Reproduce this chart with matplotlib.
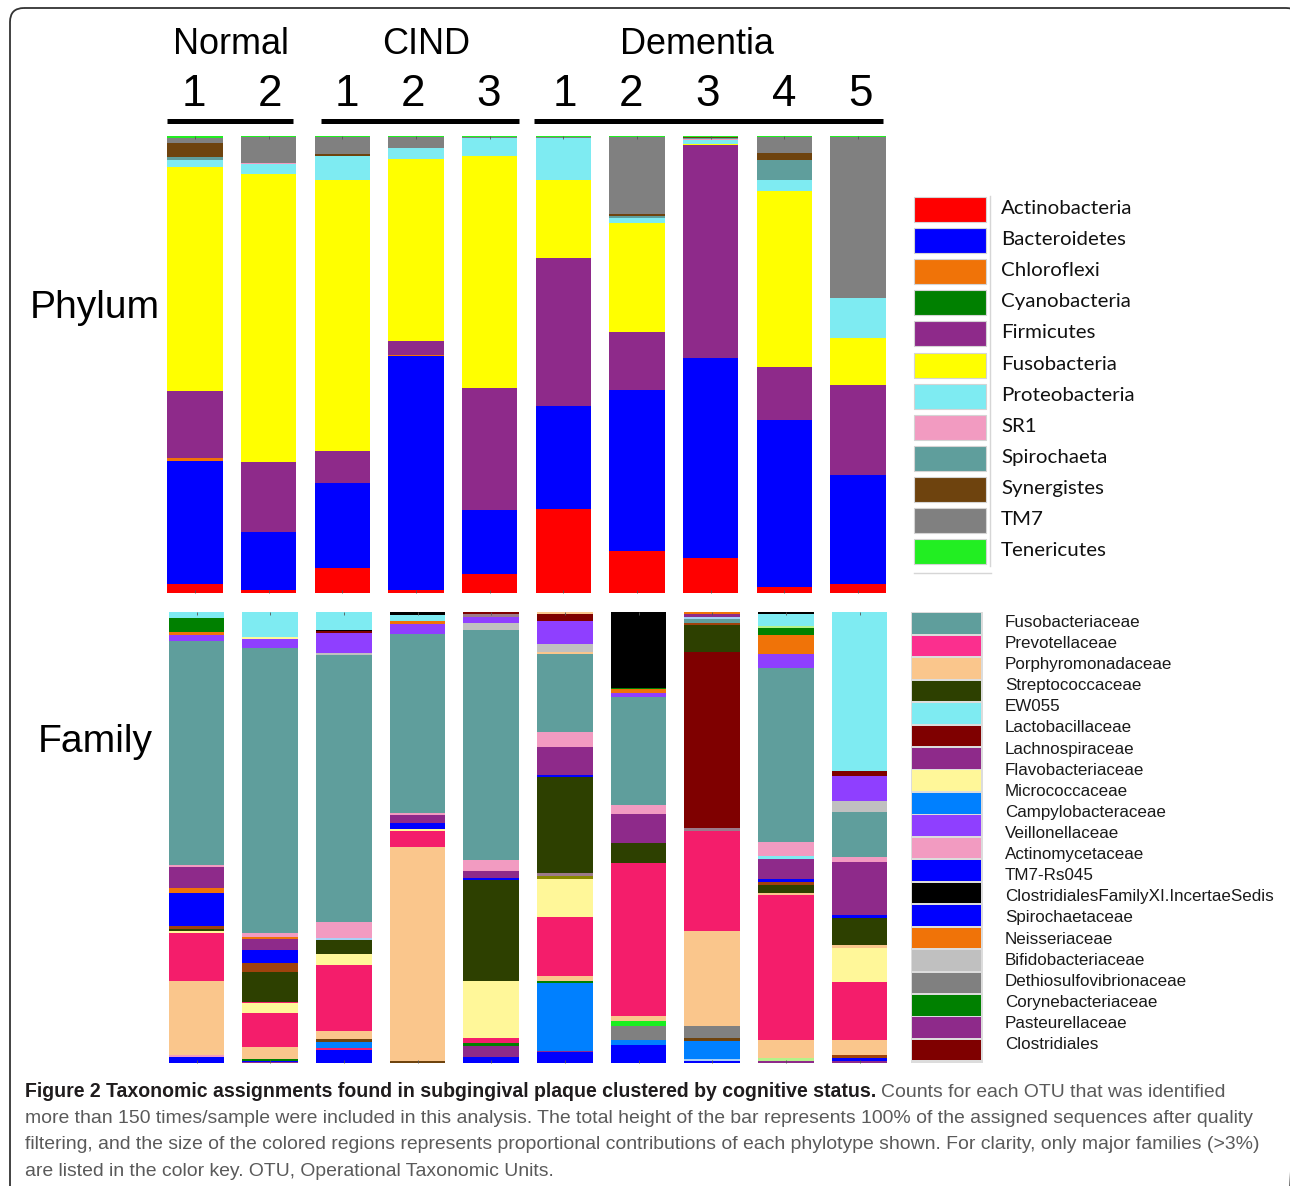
import matplotlib
matplotlib.use("Agg")
import matplotlib.pyplot as plt
from matplotlib.patches import Rectangle, FancyBboxPatch
import numpy as np

# ---------------------------------------------------------------- data
group_names = ["Normal", "CIND", "Dementia"]
sample_labels = ["1", "2", "1", "2", "3", "1", "2", "3", "4", "5"]

phyla = ["Actinobacteria", "Bacteroidetes", "Chloroflexi", "Cyanobacteria", "Firmicutes",
         "Fusobacteria", "Proteobacteria", "SR1", "Spirochaeta", "Synergistes", "TM7",
         "Tenericutes"]
phylum_colors = ["#FF0000", "#0000FF", "#F07308", "#008000", "#8E2A8A", "#FFFF00",
                 "#7EEBF2", "#F29BC1", "#5F9E9C", "#6E430E", "#808080", "#22EE22"]

# percent of each sample: N1, N2, C1, C2, C3, D1, D2, D3, D4, D5
actinobacteria = [1.9, 0.7, 5.5, 0.6, 4.2, 18.3, 9.2, 7.7, 1.2, 1.9]
bacteroidetes = [27.0, 12.6, 18.6, 51.3, 13.9, 22.6, 35.1, 43.6, 36.5, 23.9]
chloroflexi = [0.5, 0, 0, 0.1, 0, 0, 0, 0, 0, 0]
cyanobacteria = [0, 0, 0, 0, 0, 0, 0, 0, 0, 0]
firmicutes = [14.8, 15.3, 6.9, 3.1, 26.8, 32.4, 12.8, 46.6, 11.7, 19.7]
fusobacteria = [48.9, 63.0, 59.3, 39.7, 50.6, 17.1, 23.9, 0.2, 38.4, 10.2]
proteobacteria = [1.5, 2.2, 5.3, 2.4, 3.9, 9.0, 0.9, 1.0, 2.6, 8.8]
sr1 = [0, 0.2, 0, 0, 0, 0, 0, 0.2, 0, 0]
spirochaeta = [0.7, 0, 0, 0, 0, 0, 0.5, 0.2, 4.2, 0]
synergistes = [3.1, 0, 0.3, 0, 0, 0, 0.4, 0.3, 1.6, 0]
tm7 = [1.2, 5.8, 3.9, 2.6, 0.4, 0.3, 17.0, 0, 3.6, 35.3]
tenericutes = [0.4, 0.2, 0.2, 0.2, 0.2, 0.3, 0.2, 0.2, 0.2, 0.2]

phylum_values = [actinobacteria, bacteroidetes, chloroflexi, cyanobacteria, firmicutes,
                 fusobacteria, proteobacteria, sr1, spirochaeta, synergistes, tm7,
                 tenericutes]

# family colour key (legend as printed: 21 names, 20 swatches)
family_legend_names = ["Fusobacteriaceae", "Prevotellaceae", "Porphyromonadaceae",
                       "Streptococcaceae", "EW055", "Lactobacillaceae", "Lachnospiraceae",
                       "Flavobacteriaceae", "Micrococcaceae", "Campylobacteraceae",
                       "Veillonellaceae", "Actinomycetaceae", "TM7-Rs045",
                       "ClostridialesFamilyXI.IncertaeSedis", "Spirochaetaceae",
                       "Neisseriaceae", "Bifidobacteriaceae", "Dethiosulfovibrionaceae",
                       "Corynebacteriaceae", "Pasteurellaceae", "Clostridiales"]
family_legend_colors = ["#5F9E9C", "#FB2F8E", "#FAC68C", "#2D4000", "#7EEBF2", "#7F0000",
                        "#8E2A8A", "#FFF799", "#0080FF", "#8F3FFF", "#F29BC1", "#0000FF",
                        "#000000", "#0000FF", "#F07308", "#C0C0C0", "#808080", "#008000",
                        "#8E2A8A", "#7F0000"]

family_palette = {
    "Fusobacteriaceae": "#5F9E9C", "Prevotellaceae": "#F41D6B",
    "Porphyromonadaceae": "#FAC68C", "Streptococcaceae": "#2D4000", "EW055": "#7EEBF2",
    "Lactobacillaceae": "#7F0000", "Lachnospiraceae": "#8E2A8A",
    "Flavobacteriaceae": "#FFF799", "Micrococcaceae": "#0080FF",
    "Campylobacteraceae": "#8F3FFF", "Veillonellaceae": "#F29BC1",
    "Actinomycetaceae": "#0000FF", "TM7-Rs045": "#000000", "Spirochaetaceae": "#F07308",
    "Neisseriaceae": "#C0C0C0", "Bifidobacteriaceae": "#808080",
    "Dethiosulfovibrionaceae": "#008000", "other_sienna": "#A0420C",
    "other_brown": "#6E430E", "other_lime": "#19EE1F", "other_mauve": "#9C7A8A",
    "other_khaki": "#8A8A00", "other_lightblue": "#A9D0F5", "other_lightgreen": "#B5F28A",
}

# family segments, bottom -> top, percent
fam_normal1 = [("Actinomycetaceae", 1.5), ("Veillonellaceae", 0.4), ("Porphyromonadaceae", 16.4),
               ("Prevotellaceae", 10.6), ("Flavobacteriaceae", 0.3), ("Streptococcaceae", 0.5),
               ("other_sienna", 0.6), ("Actinomycetaceae", 7.5), ("Spirochaetaceae", 1.0),
               ("Lachnospiraceae", 4.7), ("Veillonellaceae", 0.4), ("Fusobacteriaceae", 49.6),
               ("Campylobacteraceae", 1.3), ("Spirochaetaceae", 0.7),
               ("Dethiosulfovibrionaceae", 3.2), ("EW055", 1.3)]
fam_normal2 = [("Lachnospiraceae", 0.3), ("Actinomycetaceae", 0.3),
               ("Dethiosulfovibrionaceae", 0.3), ("Porphyromonadaceae", 2.8),
               ("Prevotellaceae", 7.5), ("Flavobacteriaceae", 2.1), ("Prevotellaceae", 0.2),
               ("Streptococcaceae", 6.8), ("other_sienna", 2.0), ("Actinomycetaceae", 2.7),
               ("Lachnospiraceae", 2.5), ("Spirochaetaceae", 0.4), ("Veillonellaceae", 1.0),
               ("Fusobacteriaceae", 63.0), ("Campylobacteraceae", 2.0),
               ("Flavobacteriaceae", 0.4), ("EW055", 5.7)]
fam_cind1 = [("Actinomycetaceae", 3.0), ("Prevotellaceae", 0.3), ("Micrococcaceae", 1.4),
             ("other_brown", 0.7), ("Porphyromonadaceae", 1.7), ("Prevotellaceae", 14.6),
             ("Flavobacteriaceae", 2.6), ("Streptococcaceae", 3.1), ("other_lightblue", 0.4),
             ("Veillonellaceae", 3.5), ("Fusobacteriaceae", 59.2), ("Neisseriaceae", 0.4),
             ("Campylobacteraceae", 4.3), ("Lactobacillaceae", 0.5), ("TM7-Rs045", 0.2),
             ("EW055", 4.1)]
fam_cind2 = [("other_brown", 0.5), ("Porphyromonadaceae", 47.5), ("Prevotellaceae", 3.5),
             ("Flavobacteriaceae", 0.4), ("Actinomycetaceae", 1.4), ("Lachnospiraceae", 1.6),
             ("Veillonellaceae", 0.6), ("Fusobacteriaceae", 39.6),
             ("Campylobacteraceae", 2.2), ("Spirochaetaceae", 0.7), ("EW055", 1.3),
             ("TM7-Rs045", 0.7)]
fam_cind3 = [("Actinomycetaceae", 1.3), ("Lachnospiraceae", 2.6),
             ("Dethiosulfovibrionaceae", 0.5), ("Prevotellaceae", 1.3),
             ("Flavobacteriaceae", 12.6), ("Streptococcaceae", 22.3),
             ("Actinomycetaceae", 0.4), ("Lachnospiraceae", 1.5), ("Veillonellaceae", 2.6),
             ("Fusobacteriaceae", 50.8), ("Neisseriaceae", 1.5),
             ("Campylobacteraceae", 1.4), ("other_mauve", 0.8), ("Lactobacillaceae", 0.4)]
fam_dementia1 = [("Actinomycetaceae", 2.4), ("Lachnospiraceae", 0.4), ("Micrococcaceae", 14.9),
                 ("Dethiosulfovibrionaceae", 0.5), ("Porphyromonadaceae", 1.2),
                 ("Prevotellaceae", 12.9), ("Flavobacteriaceae", 8.6), ("other_khaki", 0.5),
                 ("other_mauve", 0.7), ("Streptococcaceae", 21.3), ("Actinomycetaceae", 0.5),
                 ("Lachnospiraceae", 6.1), ("Veillonellaceae", 3.3),
                 ("Fusobacteriaceae", 17.3), ("Porphyromonadaceae", 0.4),
                 ("Neisseriaceae", 1.8), ("Campylobacteraceae", 5.2),
                 ("Lactobacillaceae", 1.6), ("Porphyromonadaceae", 0.4)]
fam_dementia2 = [("Actinomycetaceae", 4.1), ("Micrococcaceae", 1.0),
                 ("Bifidobacteriaceae", 3.2), ("other_lime", 1.1),
                 ("Porphyromonadaceae", 1.0), ("Prevotellaceae", 34.0),
                 ("Streptococcaceae", 4.3), ("Lachnospiraceae", 6.5), ("Veillonellaceae", 2.1),
                 ("Fusobacteriaceae", 23.8), ("Campylobacteraceae", 1.0),
                 ("Spirochaetaceae", 0.7), ("Dethiosulfovibrionaceae", 0.3),
                 ("TM7-Rs045", 16.9)]
fam_dementia3 = [("Actinomycetaceae", 0.6), ("other_lightblue", 0.3), ("Micrococcaceae", 4.1),
                 ("other_brown", 0.6), ("Bifidobacteriaceae", 2.6),
                 ("Porphyromonadaceae", 21.0), ("Prevotellaceae", 22.3), ("other_mauve", 0.6),
                 ("Lactobacillaceae", 39.0), ("Streptococcaceae", 5.9), ("other_sienna", 0.6),
                 ("Fusobacteriaceae", 0.7), ("other_lightblue", 0.6), ("Lachnospiraceae", 0.5),
                 ("Spirochaetaceae", 0.6)]
fam_dementia4 = [("Lachnospiraceae", 0.5), ("other_lightgreen", 0.6),
                 ("Porphyromonadaceae", 4.1), ("Prevotellaceae", 32.0),
                 ("Porphyromonadaceae", 0.5), ("Streptococcaceae", 1.8), ("other_sienna", 0.7),
                 ("Actinomycetaceae", 0.5), ("Lachnospiraceae", 4.6), ("EW055", 0.7),
                 ("Veillonellaceae", 3.1), ("Fusobacteriaceae", 38.5),
                 ("Campylobacteraceae", 3.0), ("Spirochaetaceae", 4.2),
                 ("Dethiosulfovibrionaceae", 1.5), ("other_lightgreen", 0.5), ("EW055", 2.7),
                 ("TM7-Rs045", 0.5)]
fam_dementia5 = [("Lachnospiraceae", 0.5), ("Actinomycetaceae", 0.6), ("other_sienna", 0.7),
                 ("Porphyromonadaceae", 3.3), ("Prevotellaceae", 12.8),
                 ("Flavobacteriaceae", 7.7), ("Porphyromonadaceae", 0.5),
                 ("Streptococcaceae", 6.1), ("Actinomycetaceae", 0.6),
                 ("Lachnospiraceae", 11.7), ("Veillonellaceae", 1.1),
                 ("Fusobacteriaceae", 10.1), ("Neisseriaceae", 2.4),
                 ("Campylobacteraceae", 5.6), ("Lactobacillaceae", 1.0), ("EW055", 35.3)]

family_bars = [fam_normal1, fam_normal2, fam_cind1, fam_cind2, fam_cind3,
               fam_dementia1, fam_dementia2, fam_dementia3, fam_dementia4, fam_dementia5]

caption_bold = ("Figure 2 Taxonomic assignments found in subgingival plaque clustered by "
                "cognitive status.")
caption_lines = [
    "Counts for each OTU that was identified",
    "more than 150 times/sample were included in this analysis. The total height of the bar "
    "represents 100% of the assigned sequences after quality",
    "filtering, and the size of the colored regions represents proportional contributions of "
    "each phylotype shown. For clarity, only major families (>3%)",
    "are listed in the color key. OTU, Operational Taxonomic Units.",
]

# ---------------------------------------------------------------- figure
W, H, DPI = 1290, 1186, 100
fig = plt.figure(figsize=(W / DPI, H / DPI), dpi=DPI)
fig.patch.set_facecolor("white")

NARROW = ["Liberation Sans Narrow", "Liberation Sans", "DejaVu Sans"]
SANS = ["Liberation Sans", "DejaVu Sans"]
PT = 72.0 / DPI

# overlay axes in pixel coordinates (for annotations / keys)
ov = fig.add_axes([0, 0, 1, 1], zorder=0)
ov.set_xlim(0, W)
ov.set_ylim(H, 0)
ov.axis("off")

n = len(sample_labels)
xpos = np.arange(n)
pitch = 73.67
bar_w = 55.5 / pitch


def bar_axes(center0_px, top_px, bottom_px):
    left = center0_px - 0.5 * pitch
    ax = fig.add_axes([left / W, 1 - bottom_px / H, n * pitch / W, (bottom_px - top_px) / H],
                      zorder=2)
    ax.set_xlim(-0.5, n - 0.5)
    ax.set_ylim(0, 100)
    ax.patch.set_alpha(0)
    for s in ax.spines.values():
        s.set_visible(False)
    ax.set_xticks(xpos)
    ax.set_yticks([])
    ax.tick_params(axis="x", direction="in", length=2.5, width=0.6, colors="#555555",
                   top=True, bottom=True, labelbottom=False)
    return ax


# ---- phylum panel
axp = bar_axes(195.0, 135.7, 592.7)
bottom = np.zeros(n)
for name, vals, col in zip(phyla, phylum_values, phylum_colors):
    vals = np.asarray(vals, dtype=float)
    axp.bar(xpos, vals, bottom=bottom, width=bar_w, color=col, linewidth=0)
    bottom += vals

# ---- family panel
axf = bar_axes(196.5, 611.7, 1063.3)
for i, segs in enumerate(family_bars):
    b = 0.0
    for fam, v in segs:
        axf.bar(xpos[i], v, bottom=b, width=bar_w, color=family_palette[fam], linewidth=0)
        b += v

# ---- header
for name, cx in zip(group_names, [231, 426, 697]):
    ov.text(cx, 44, name, ha="center", va="center", fontsize=36 * PT, family=NARROW,
            color="black")
for lab, cx in zip(sample_labels, [194, 270, 347, 413, 489, 565, 631, 708, 784, 861]):
    ov.text(cx, 95, lab, ha="center", va="center", fontsize=44 * PT, family=NARROW,
            color="black")
for x0, x1 in [(167, 293), (321, 519), (534, 883)]:
    ov.plot([x0, x1], [120.5, 120.5], color="black", lw=5 * PT, solid_capstyle="butt")

ov.text(30, 308, "Phylum", ha="left", va="center", fontsize=39 * PT, family=SANS,
        color="black")
ov.text(38, 742, "Family", ha="left", va="center", fontsize=39 * PT, family=SANS,
        color="black")

# ---- phylum key
for i, (name, col) in enumerate(zip(phyla, phylum_colors)):
    cy = 208.5 + i * 31.1
    ov.add_patch(Rectangle((914, cy - 11.5), 72, 25, facecolor=col, edgecolor="#d4d4d4",
                           lw=0.8))
    ov.text(1001, cy, name, ha="left", va="center", fontsize=20.5 * PT,
            family=["Lato", "DejaVu Sans"], color="#111111")
ov.plot([990, 990], [196, 566], color="#d6d6d6", lw=1.0)
ov.plot([914, 991], [573, 573], color="#d6d6d6", lw=1.0)

# ---- family key (printed key has 21 names against 20 swatches)
ov.add_patch(Rectangle((911, 612), 72, 451, facecolor="#dcdcdc", edgecolor="none"))
for i, col in enumerate(family_legend_colors):
    top = 613.3 + i * 22.45
    ov.add_patch(Rectangle((912, top), 69, 20.6, facecolor=col, edgecolor="none"))
for i, name in enumerate(family_legend_names):
    ov.text(1005, 622.5 + i * 21.1, name, ha="left", va="center", fontsize=17 * PT,
            family=SANS, color="#1a1a1a")

# ---- caption
fig.canvas.draw()
rend = fig.canvas.get_renderer()


def fit(t, target):
    w = t.get_window_extent(rend).width
    t.set_fontsize(t.get_fontsize() * target / w)


tb = ov.text(25, 1097, caption_bold, ha="left", va="baseline", fontsize=14,
             family=NARROW, weight="bold", color="#1f1c1d")
fit(tb, 855)
r2 = ov.text(25, 1123, caption_lines[1], ha="left", va="baseline", fontsize=14,
             family=NARROW, color="#5a5a5a")
fit(r2, 1232)
fs = r2.get_fontsize()
r3 = ov.text(25, 1149, caption_lines[2], ha="left", va="baseline", fontsize=fs,
             family=NARROW, color="#5a5a5a")
r4 = ov.text(25, 1176, caption_lines[3], ha="left", va="baseline", fontsize=fs,
             family=NARROW, color="#5a5a5a")
fig.canvas.draw()
bx = tb.get_window_extent(rend).x1
ov.text(bx + 5, 1097, caption_lines[0], ha="left", va="baseline", fontsize=fs,
        family=NARROW, color="#5a5a5a")

# ---- frame
ov.add_patch(FancyBboxPatch((10, 8), 1290, 1210, boxstyle="round,pad=0,rounding_size=14",
                            facecolor="none", edgecolor="#333333", lw=1.3, clip_on=False))

fig.savefig("out.png", dpi=DPI, facecolor="white")
